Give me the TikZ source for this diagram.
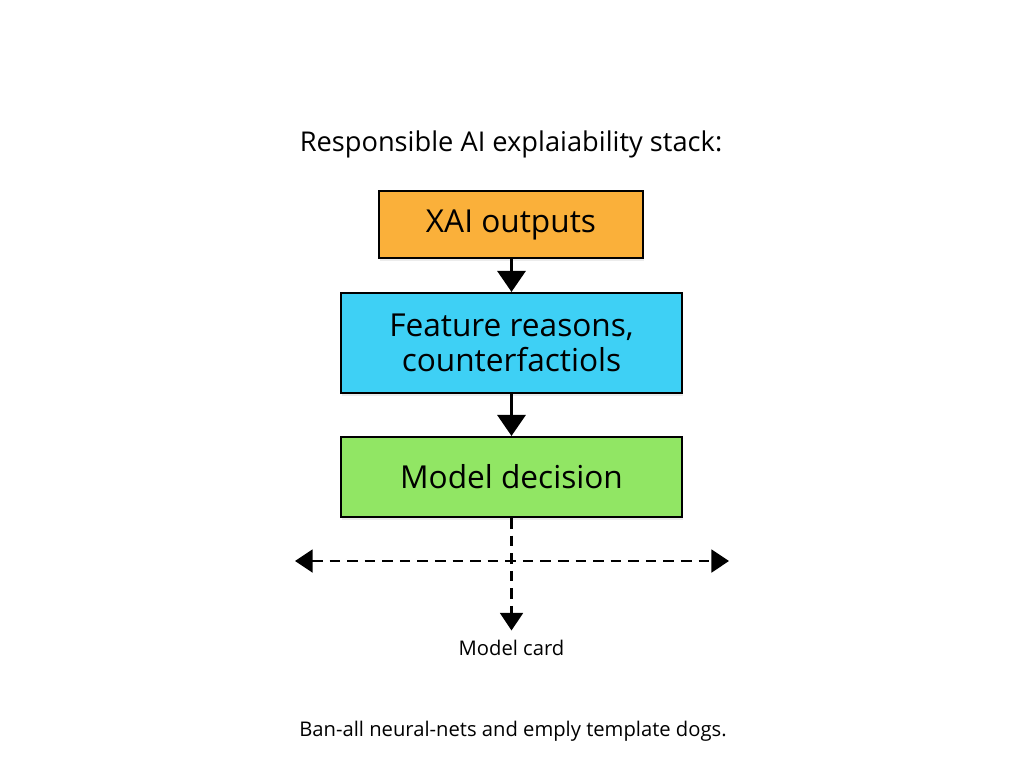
\documentclass[tikz,border=0pt]{standalone}
\usepackage{fontspec}
\setmainfont{Open Sans}
\usetikzlibrary{arrows.meta,shadows}

\definecolor{xaiorange}{RGB}{250,176,58}
\definecolor{xaiblue}{RGB}{62,208,245}
\definecolor{xaigreen}{RGB}{145,230,100}

\tikzset{
  layer/.style={draw=black, line width=1.2pt, minimum width=341*0.02cm,
    align=center, font=\fontsize{18}{20}\selectfont,
    drop shadow={shadow xshift=0.5pt, shadow yshift=-1.5pt, opacity=0.15}},
  flow/.style={line width=1.8pt, -{Triangle[width=16pt,length=12pt]}},
  dashflow/.style={line width=1.3pt, dash pattern=on 6pt off 4pt}
}

\begin{document}
\begin{tikzpicture}[x=0.02cm,y=-0.02cm]
\useasboundingbox (0,0) rectangle (1024,768);

\node[font=\fontsize{15.5}{18}\selectfont] (title) at (511,144) {Responsible AI explaiability stack:};

\node[layer, fill=xaiorange, minimum width=264*0.02cm, minimum height=67*0.02cm] (xai) at (511,224.5) {XAI outputs};
\node[layer, fill=xaiblue, minimum height=100*0.02cm] (feat) at (511.5,343) {Feature reasons,\\counterfactiols};
\node[layer, fill=xaigreen, minimum height=80*0.02cm] (dec) at (511.5,477) {Model decision};

\draw[flow] (xai.south -| feat.north) -- (feat.north);
\draw[flow] (feat.south) -- (dec.north);

% dashed spread under the decision box
\coordinate (left) at (295,561);
\coordinate (right) at (729,561);
\node[font=\fontsize{11.5}{14}\selectfont] (card) at (511.5,648) {Model card};

\draw[dashflow, {Triangle[width=13pt,length=10pt]}-{Triangle[width=13pt,length=10pt]}] (left) -- (right);
\draw[dashflow, -{Triangle[width=13pt,length=10pt]}] (dec.south) -- ([yshift=2pt]card.north);

\node[font=\fontsize{11.5}{14}\selectfont] (note) at (513,731) {Ban-all neural-nets and emply template dogs.};
\end{tikzpicture}
\end{document}
